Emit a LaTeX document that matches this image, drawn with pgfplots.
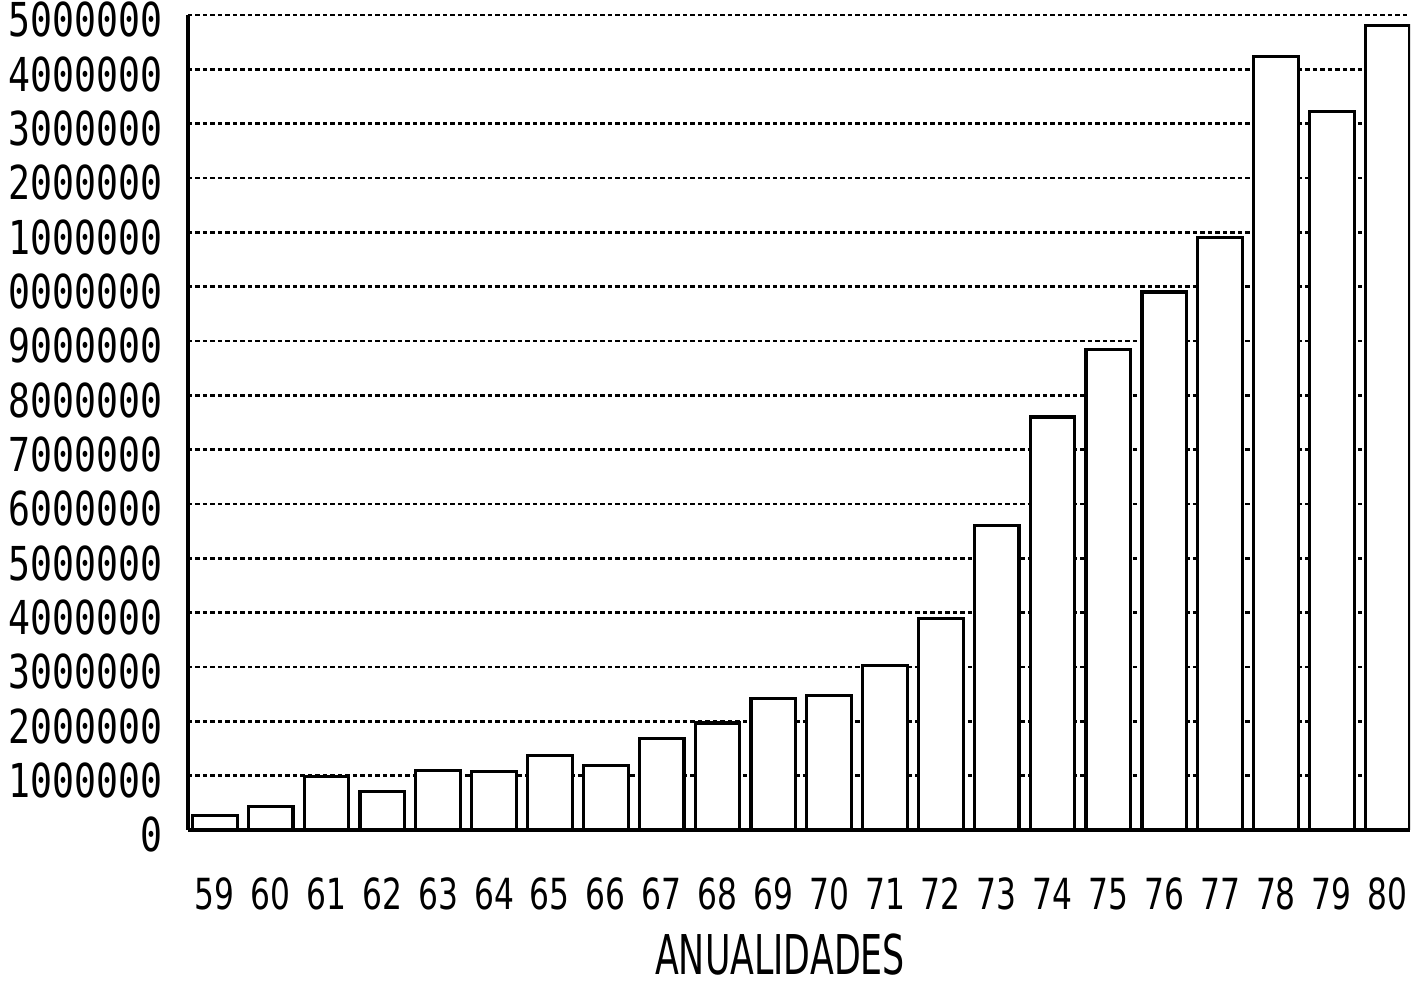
\documentclass[border=0pt]{standalone}
\usepackage{fontspec}
\setmainfont{DejaVu Sans}
\newfontfamily\ymono[FakeStretch=0.78]{DejaVu Sans Mono}
\newfontfamily\xnum[FakeStretch=0.73]{DejaVu Sans}
\newfontfamily\xlab[FakeStretch=0.635]{DejaVu Sans}
\usepackage{pgfplots}
\pgfplotsset{compat=1.18}

% valores (anualidades 1959-1980)
\pgfplotstableread{
ano valor
59 270000
60 430000
61 980000
62 710000
63 1090000
64 1070000
65 1370000
66 1180000
67 1690000
68 1970000
69 2420000
70 2470000
71 3020000
72 3890000
73 5600000
74 7600000
75 8840000
76 9900000
77 10900000
78 14230000
79 13220000
80 14800000
}\datos

\begin{document}
\begin{tikzpicture}
\begin{axis}[
    scale only axis,
    width=12.22cm,
    height=8.15cm,
    xmin=58.52, xmax=80.40,
    ymin=0, ymax=15000000,
    enlargelimits=false,
    axis x line=bottom,
    axis y line=left,
    axis line style={-, line width=0.9pt},
    major tick length=0pt,
    scaled y ticks=false,
    xtick={59,60,61,62,63,64,65,66,67,68,69,70,71,72,73,74,75,76,77,78,79,80},
    xticklabels={59,60,61,62,63,64,65,66,67,68,69,70,71,72,73,74,75,76,77,78,79,80},
    ytick={0,1000000,2000000,3000000,4000000,5000000,6000000,7000000,8000000,9000000,10000000,11000000,12000000,13000000,14000000,15000000},
    yticklabels={0,1000000,2000000,3000000,4000000,5000000,6000000,7000000,8000000,9000000,0000000,1000000,2000000,3000000,4000000,5000000},
    yticklabel style={font=\ymono\fontsize{13.3}{14}\selectfont, anchor=east, inner sep=0pt, xshift=-0.25cm, yshift=-0.05cm},
    xticklabel style={font=\xnum\fontsize{12.2}{13}\selectfont, anchor=base, inner sep=0pt, yshift=-0.80cm},
    ymajorgrids,
    major grid style={black, line width=0.8pt, dash pattern=on 0.045cm off 0.03cm},
    xlabel={ANUALIDADES},
    xlabel style={font=\xlab\fontsize{15.6}{17}\selectfont, at={(axis description cs:0.4845,0)}, anchor=base, inner sep=0pt, yshift=-1.45cm},
]
\addplot[ybar, bar width=0.8, fill=white, draw=black, line width=0.9pt]
    table[x=ano, y=valor] {\datos};
\end{axis}
\pgfresetboundingbox
\useasboundingbox ([xshift=-1.88cm,yshift=-1.53cm]current axis.south west) rectangle ([xshift=0.15cm,yshift=0.15cm]current axis.north east);
\end{tikzpicture}
\end{document}
